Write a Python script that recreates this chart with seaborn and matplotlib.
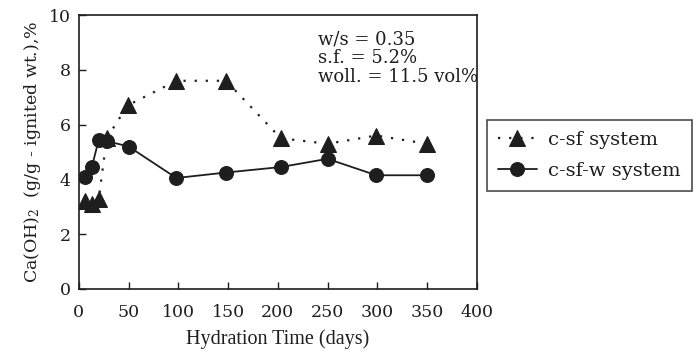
import numpy as np
import pandas as pd
import matplotlib
matplotlib.use("Agg")
import matplotlib.pyplot as plt
import seaborn as sns

# values
days_sf = [6, 13, 20, 28, 49, 98, 148, 203, 250, 299, 350]
ch_sf = [3.2, 3.1, 3.3, 5.5, 6.7, 7.6, 7.6, 5.5, 5.3, 5.6, 5.3]
days_sfw = [6, 13, 20, 28, 50, 98, 148, 203, 250, 299, 350]
ch_sfw = [4.1, 4.45, 5.45, 5.4, 5.2, 4.05, 4.25, 4.45, 4.75, 4.15, 4.15]
x_ticks = [0, 50, 100, 150, 200, 250, 300, 350, 400]
y_ticks = [0, 2, 4, 6, 8, 10]

sns.set_theme(style="ticks")
plt.rcParams['font.family'] = ['DejaVu Serif']
plt.rcParams['mathtext.fontset'] = 'dejavuserif'
ink = '#1e1e1e'

df_sf = pd.DataFrame({'days': days_sf, 'ch': ch_sf})
df_sfw = pd.DataFrame({'days': days_sfw, 'ch': ch_sfw})

fig = plt.figure(figsize=(6.98, 3.51), dpi=100)
ax = fig.add_axes([0.113, 0.177, 0.57, 0.78])

sns.lineplot(x='days', y='ch', data=df_sf, ax=ax, color=ink, linestyle=(0, (1, 4)),
             linewidth=1.6, marker='^', markersize=11.5, markeredgecolor=ink,
             label='c-sf system')
sns.lineplot(x='days', y='ch', data=df_sfw, ax=ax, color=ink, linestyle='-',
             linewidth=1.3, marker='o', markersize=10, markeredgecolor=ink,
             label='c-sf-w system')

ax.set_xlim(0, 400)
ax.set_ylim(0, 10)
ax.set_xticks(x_ticks)
ax.set_yticks(y_ticks)
ax.tick_params(direction='in', length=5, width=1, labelsize=12.5, colors=ink)
ax.tick_params(axis='x', pad=11)
ax.tick_params(axis='y', pad=6)
for s in ax.spines.values():
    s.set_linewidth(1.2)
    s.set_color(ink)

ax.set_xlabel('Hydration Time (days)', fontsize=14.5, color=ink, labelpad=6,
              family='Liberation Serif')
ax.set_ylabel(r'Ca(OH)$_2$  (g/g - ignited wt.),%', fontsize=12.5, color=ink, labelpad=4)

ax.text(0.6, 0.945, 'w/s = 0.35\ns.f. = 5.2%\nwoll. = 11.5 vol%', transform=ax.transAxes,
        fontsize=13, va='top', ha='left', linespacing=1.08, color=ink)

leg = ax.legend(loc='center left', bbox_to_anchor=(0.698, 0.557), bbox_transform=fig.transFigure,
                frameon=True, fancybox=False, fontsize=14, handlelength=2.0,
                borderpad=0.55, labelspacing=0.65, handletextpad=0.6, borderaxespad=0)
leg.get_frame().set_edgecolor(ink)
leg.get_frame().set_linewidth(1.2)
for t in leg.get_texts():
    t.set_color(ink)

plt.savefig('out.png', dpi=100)
plt.close()
